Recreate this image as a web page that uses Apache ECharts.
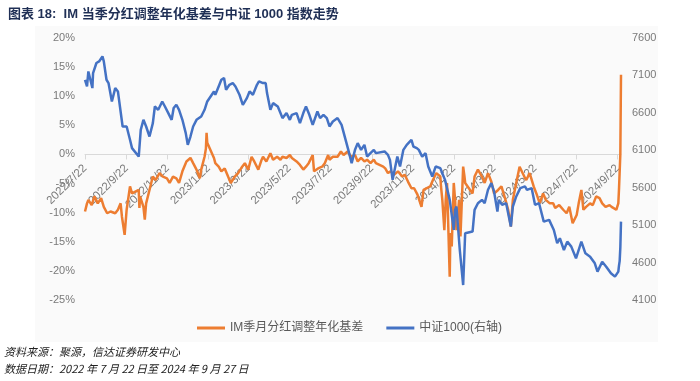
<!DOCTYPE html>
<html><head><meta charset="utf-8">
<script src="https://cdn.jsdelivr.net/npm/echarts@6/dist/echarts.min.js"></script>
<style>html,body{margin:0;padding:0;background:#fff}#c{width:700px;height:381px}</style>
</head><body><div id="c"></div>
<script>
const titleText = '图表 18:  IM 当季分红调整年化基差与中证 1000 指数走势';
const seriesNames = ['IM季月分红调整年化基差', '中证1000(右轴)'];
const sourceLines = ['资料来源：聚源，信达证券研发中心', '数据日期：2022 年 7 月 22 日至 2024 年 9 月 27 日'];
const firstDay = [2022, 7, 22];
const lastDay = [2024, 9, 27];
const xTickLabels = ['2022/7/22','2022/9/22','2022/11/22','2023/1/22','2023/3/22','2023/5/22','2023/7/22','2023/9/22','2023/11/22','2024/1/22','2024/3/22','2024/5/22','2024/7/22','2024/9/22'];
const leftMin = -25, leftMax = 20, leftStep = 5;
const rightTicks = [4100, 4600, 5100, 5600, 6100, 6600, 7100, 7600];

const basisDates = ['2022/7/22','2022/7/25','2022/7/27','2022/8/1','2022/8/5','2022/8/10','2022/8/15','2022/8/19','2022/8/24','2022/8/29','2022/9/5','2022/9/9','2022/9/13','2022/9/15','2022/9/19','2022/9/22','2022/9/27','2022/9/30','2022/10/10','2022/10/11','2022/10/12','2022/10/17','2022/10/19','2022/10/21','2022/10/26','2022/10/31','2022/11/4','2022/11/10','2022/11/15','2022/11/21','2022/11/25','2022/11/30','2022/12/5','2022/12/9','2022/12/14','2022/12/20','2022/12/26','2022/12/30','2023/1/4','2023/1/9','2023/1/11','2023/1/16','2023/1/18','2023/1/19','2023/1/20','2023/1/30','2023/2/1','2023/2/6','2023/2/10','2023/2/15','2023/2/20','2023/2/24','2023/3/2','2023/3/7','2023/3/13','2023/3/17','2023/3/22','2023/3/27','2023/3/31','2023/4/6','2023/4/11','2023/4/13','2023/4/18','2023/4/24','2023/4/28','2023/5/4','2023/5/9','2023/5/12','2023/5/18','2023/5/23','2023/5/26','2023/6/2','2023/6/7','2023/6/12','2023/6/16','2023/6/20','2023/6/26','2023/6/28','2023/7/4','2023/7/10','2023/7/14','2023/7/19','2023/7/21','2023/7/26','2023/8/2','2023/8/7','2023/8/11','2023/8/17','2023/8/22','2023/8/28','2023/9/1','2023/9/6','2023/9/11','2023/9/15','2023/9/20','2023/9/25','2023/9/28','2023/10/9','2023/10/12','2023/10/16','2023/10/20','2023/10/25','2023/10/31','2023/11/6','2023/11/10','2023/11/15','2023/11/20','2023/11/24','2023/11/29','2023/12/5','2023/12/8','2023/12/13','2023/12/18','2023/12/22','2023/12/27','2024/1/2','2024/1/3','2024/1/5','2024/1/8','2024/1/10','2024/1/12','2024/1/16','2024/1/17','2024/1/19','2024/1/22','2024/1/24','2024/1/26','2024/1/30','2024/2/1','2024/2/5','2024/2/7','2024/2/8','2024/2/19','2024/2/22','2024/2/27','2024/3/4','2024/3/8','2024/3/13','2024/3/18','2024/3/22','2024/3/28','2024/4/2','2024/4/8','2024/4/12','2024/4/16','2024/4/19','2024/4/24','2024/4/29','2024/5/6','2024/5/9','2024/5/14','2024/5/20','2024/5/24','2024/5/29','2024/6/3','2024/6/7','2024/6/13','2024/6/18','2024/6/21','2024/6/27','2024/7/3','2024/7/8','2024/7/12','2024/7/17','2024/7/23','2024/7/26','2024/7/30','2024/8/2','2024/8/6','2024/8/12','2024/8/16','2024/8/21','2024/8/26','2024/8/30','2024/9/4','2024/9/10','2024/9/13','2024/9/20','2024/9/23','2024/9/24','2024/9/25','2024/9/26','2024/9/27'];
const basisValues = [-9.8,-8.4,-7.8,-8.7,-7.2,-8.4,-7.5,-9.0,-10.1,-9.8,-10.1,-9.5,-8.4,-10.7,-13.8,-9.5,-5.5,-6.7,-6.1,-9.2,-7.2,-9.0,-11.2,-8.4,-6.1,-3.8,-4.4,-3.2,-3.8,-4.1,-4.9,-3.8,-4.1,-4.9,-2.9,-1.2,-0.6,-1.5,-2.6,-4.1,-2.6,-0.4,1.0,3.7,2.0,-0.6,-1.5,-2.1,-2.9,-2.4,-3.8,-4.9,-3.8,-3.2,-2.1,-1.5,-2.6,-0.4,-1.2,-2.6,-0.9,-0.4,-1.2,0.2,-0.9,-0.4,-0.9,-0.4,-0.6,-0.1,-0.6,-1.2,-1.8,-2.6,-2.1,-1.5,-0.1,-2.9,-2.4,-2.1,-1.5,-0.1,-0.9,-0.4,-0.4,0.5,-0.1,0.5,-0.4,-0.1,-1.2,-0.6,-1.2,-0.9,-1.5,-0.9,-1.5,-2.1,-2.4,-3.2,-2.9,-3.5,-2.9,-3.8,-3.5,-4.7,-5.8,-5.8,-6.9,-9.0,-6.1,-5.8,-5.5,-4.4,-3.2,-3.8,-5.5,-7.8,-13.0,-7.8,-4.9,-21.0,-13.5,-15.8,-4.9,-7.8,-13.0,-7.8,-14.1,-2.1,-3.8,-4.9,-6.7,-3.8,-2.6,-3.8,-4.9,-3.2,-4.7,-6.7,-6.1,-5.5,-7.8,-9.5,-12.4,-7.8,-4.9,-2.1,-3.8,-4.4,-3.2,-5.5,-6.7,-8.4,-6.7,-7.8,-8.4,-8.4,-9.2,-8.7,-9.5,-10.1,-9.0,-11.8,-10.4,-8.4,-6.1,-9.5,-9.0,-8.4,-8.7,-7.2,-7.5,-8.4,-9.0,-8.7,-9.0,-9.5,-8.4,-6.0,-3.0,0.0,13.7];

const indexDates = ['2022/7/22','2022/7/25','2022/7/27','2022/7/29','2022/8/2','2022/8/3','2022/8/8','2022/8/12','2022/8/17','2022/8/19','2022/8/23','2022/8/26','2022/8/31','2022/9/5','2022/9/9','2022/9/14','2022/9/16','2022/9/22','2022/9/27','2022/9/30','2022/10/10','2022/10/11','2022/10/13','2022/10/17','2022/10/21','2022/10/26','2022/10/31','2022/11/3','2022/11/8','2022/11/14','2022/11/18','2022/11/23','2022/11/28','2022/12/1','2022/12/5','2022/12/9','2022/12/14','2022/12/19','2022/12/22','2022/12/26','2022/12/30','2023/1/4','2023/1/11','2023/1/16','2023/1/20','2023/1/30','2023/2/1','2023/2/6','2023/2/10','2023/2/14','2023/2/17','2023/2/22','2023/2/27','2023/3/3','2023/3/9','2023/3/14','2023/3/20','2023/3/24','2023/3/29','2023/4/4','2023/4/7','2023/4/13','2023/4/17','2023/4/19','2023/4/24','2023/4/28','2023/5/5','2023/5/9','2023/5/12','2023/5/18','2023/5/23','2023/5/26','2023/6/2','2023/6/7','2023/6/12','2023/6/16','2023/6/21','2023/6/26','2023/7/3','2023/7/7','2023/7/12','2023/7/17','2023/7/21','2023/7/26','2023/8/2','2023/8/8','2023/8/14','2023/8/18','2023/8/23','2023/8/28','2023/9/1','2023/9/6','2023/9/11','2023/9/15','2023/9/20','2023/9/25','2023/9/28','2023/10/11','2023/10/16','2023/10/19','2023/10/23','2023/10/26','2023/10/30','2023/11/3','2023/11/8','2023/11/13','2023/11/20','2023/11/23','2023/11/28','2023/12/1','2023/12/6','2023/12/11','2023/12/15','2023/12/21','2023/12/26','2024/1/2','2024/1/9','2024/1/16','2024/1/22','2024/1/24','2024/1/26','2024/1/31','2024/2/5','2024/2/8','2024/2/19','2024/2/20','2024/2/22','2024/2/27','2024/3/4','2024/3/8','2024/3/13','2024/3/18','2024/3/22','2024/3/27','2024/3/29','2024/4/3','2024/4/9','2024/4/16','2024/4/19','2024/4/24','2024/4/30','2024/5/7','2024/5/10','2024/5/17','2024/5/22','2024/5/28','2024/6/4','2024/6/12','2024/6/19','2024/6/24','2024/6/28','2024/7/4','2024/7/9','2024/7/15','2024/7/22','2024/7/30','2024/8/5','2024/8/12','2024/8/19','2024/8/23','2024/8/30','2024/9/5','2024/9/12','2024/9/18','2024/9/23','2024/9/24','2024/9/25','2024/9/26','2024/9/27'];
const indexValues = [7042,6953,7153,7176,6931,7132,7266,7287,7354,7287,7042,6998,6752,6931,6886,6551,6418,6418,6240,6129,6016,5995,6373,6507,6418,6284,6463,6685,6641,6752,6685,6597,6507,6664,6708,6641,6507,6329,6173,6284,6418,6507,6551,6641,6752,6886,6842,6953,7042,7065,6909,6975,6998,6953,6842,6708,6797,6886,6842,6975,7020,6998,6998,6864,6641,6730,6685,6597,6530,6597,6507,6574,6597,6463,6597,6685,6574,6440,6618,6530,6574,6530,6418,6485,6530,6440,6240,6106,5928,6106,6196,6106,6173,6016,6062,6106,6062,6084,6039,5972,5705,5839,6016,5883,6106,6173,6240,6150,6129,6106,6016,6062,5883,5749,5883,5861,5705,5438,5036,5304,5349,4768,4300,4992,5014,5036,5304,5393,5438,5393,5572,5661,5550,5281,5438,5371,5393,5081,5349,5483,5594,5617,5572,5594,5371,5393,5147,5170,5036,4858,4925,4768,4880,4813,4657,4880,4724,4679,4590,4479,4612,4545,4457,4412,4479,4560,4620,4800,5147];

// build calendar-day categories
function fmt(d) { return d.getFullYear() + '/' + (d.getMonth() + 1) + '/' + d.getDate(); }
const categories = [];
const dEnd = new Date(lastDay[0], lastDay[1] - 1, lastDay[2]);
for (let d = new Date(firstDay[0], firstDay[1] - 1, firstDay[2]); d <= dEnd; d.setDate(d.getDate() + 1)) categories.push(fmt(d));
const catIndex = {};
categories.forEach((c, i) => { catIndex[c] = i; });
const tickSet = new Set(xTickLabels);
const basisData = basisDates.map((d, i) => [catIndex[d], basisValues[i]]);
const indexData = indexDates.map((d, i) => [catIndex[d], indexValues[i]]);

const GRID_TOP = 38, GRID_BOTTOM = 81, H = 381;
const plotH = H - GRID_TOP - GRID_BOTTOM;
// move the category axis up to the 0% level of the left axis
const zeroOffset = -plotH * (0 - leftMin) / (leftMax - leftMin);

const FONT = "'Liberation Sans','Noto Sans CJK SC',sans-serif";
const LABEL_COLOR = '#7a7a7a';
const chart = echarts.init(document.getElementById('c'), null, { renderer: 'canvas' });
chart.setOption({
  animation: false,
  backgroundColor: '#ffffff',
  title: {
    text: titleText, left: 3, top: 3,
    textStyle: { fontSize: 13, fontWeight: 'bold', color: '#1f2f55', fontFamily: FONT }
  },
  graphic: [
    { type: 'rect', z: -10, shape: { x: 35, y: 26, width: 623, height: 316 }, style: { fill: '#fafafa' } },
    { type: 'text', left: 4, top: 346, style: { text: sourceLines[0], fontSize: 11, fontStyle: 'italic', fill: '#222', fontFamily: "'Noto Sans CJK SC',sans-serif" } },
    { type: 'text', left: 4, top: 363, style: { text: sourceLines[1], fontSize: 11, fontStyle: 'italic', fill: '#222', fontFamily: "'Noto Sans CJK SC',sans-serif" } }
  ],
  legend: {
    left: 192, top: 317, itemWidth: 28, itemHeight: 3, itemGap: 23, icon: 'rect',
    textStyle: { fontSize: 12, color: '#595959', fontFamily: FONT },
    data: seriesNames
  },
  grid: { left: 85, right: 79, top: GRID_TOP, bottom: GRID_BOTTOM, containLabel: false },
  xAxis: {
    type: 'category', data: categories, boundaryGap: false, position: 'bottom', offset: zeroOffset,
    axisLine: { onZero: false, lineStyle: { color: '#d9d9d9', width: 1 } },
    axisTick: { show: true, interval: (i, v) => tickSet.has(v), length: 5, lineStyle: { color: '#d9d9d9' } },
    axisLabel: { interval: (i, v) => tickSet.has(v), rotate: 45, margin: 12, color: LABEL_COLOR, fontSize: 11.5, fontFamily: FONT, hideOverlap: false },
    splitLine: { show: false }
  },
  yAxis: [
    {
      type: 'value', min: leftMin, max: leftMax, interval: leftStep,
      axisLine: { show: false }, axisTick: { show: false }, splitLine: { show: false },
      axisLabel: { formatter: '{value}%', margin: 10, color: LABEL_COLOR, fontSize: 11, fontFamily: FONT }
    },
    {
      type: 'value', min: rightTicks[0], max: rightTicks[rightTicks.length - 1], position: 'right',
      axisLine: { show: false }, axisTick: { show: false }, splitLine: { show: false },
      axisLabel: { customValues: rightTicks, formatter: (v) => String(v), margin: 11, color: LABEL_COLOR, fontSize: 11, fontFamily: FONT }
    }
  ],
  series: [
    { name: seriesNames[0], type: 'line', yAxisIndex: 0, data: basisData, showSymbol: false, symbol: 'none',
      lineStyle: { color: '#ed7d31', width: 2.5 }, itemStyle: { color: '#ed7d31' }, z: 2 },
    { name: seriesNames[1], type: 'line', yAxisIndex: 1, data: indexData, showSymbol: false, symbol: 'none',
      lineStyle: { color: '#4472c4', width: 2.5 }, itemStyle: { color: '#4472c4' }, z: 3 }
  ]
});
</script></body></html>
